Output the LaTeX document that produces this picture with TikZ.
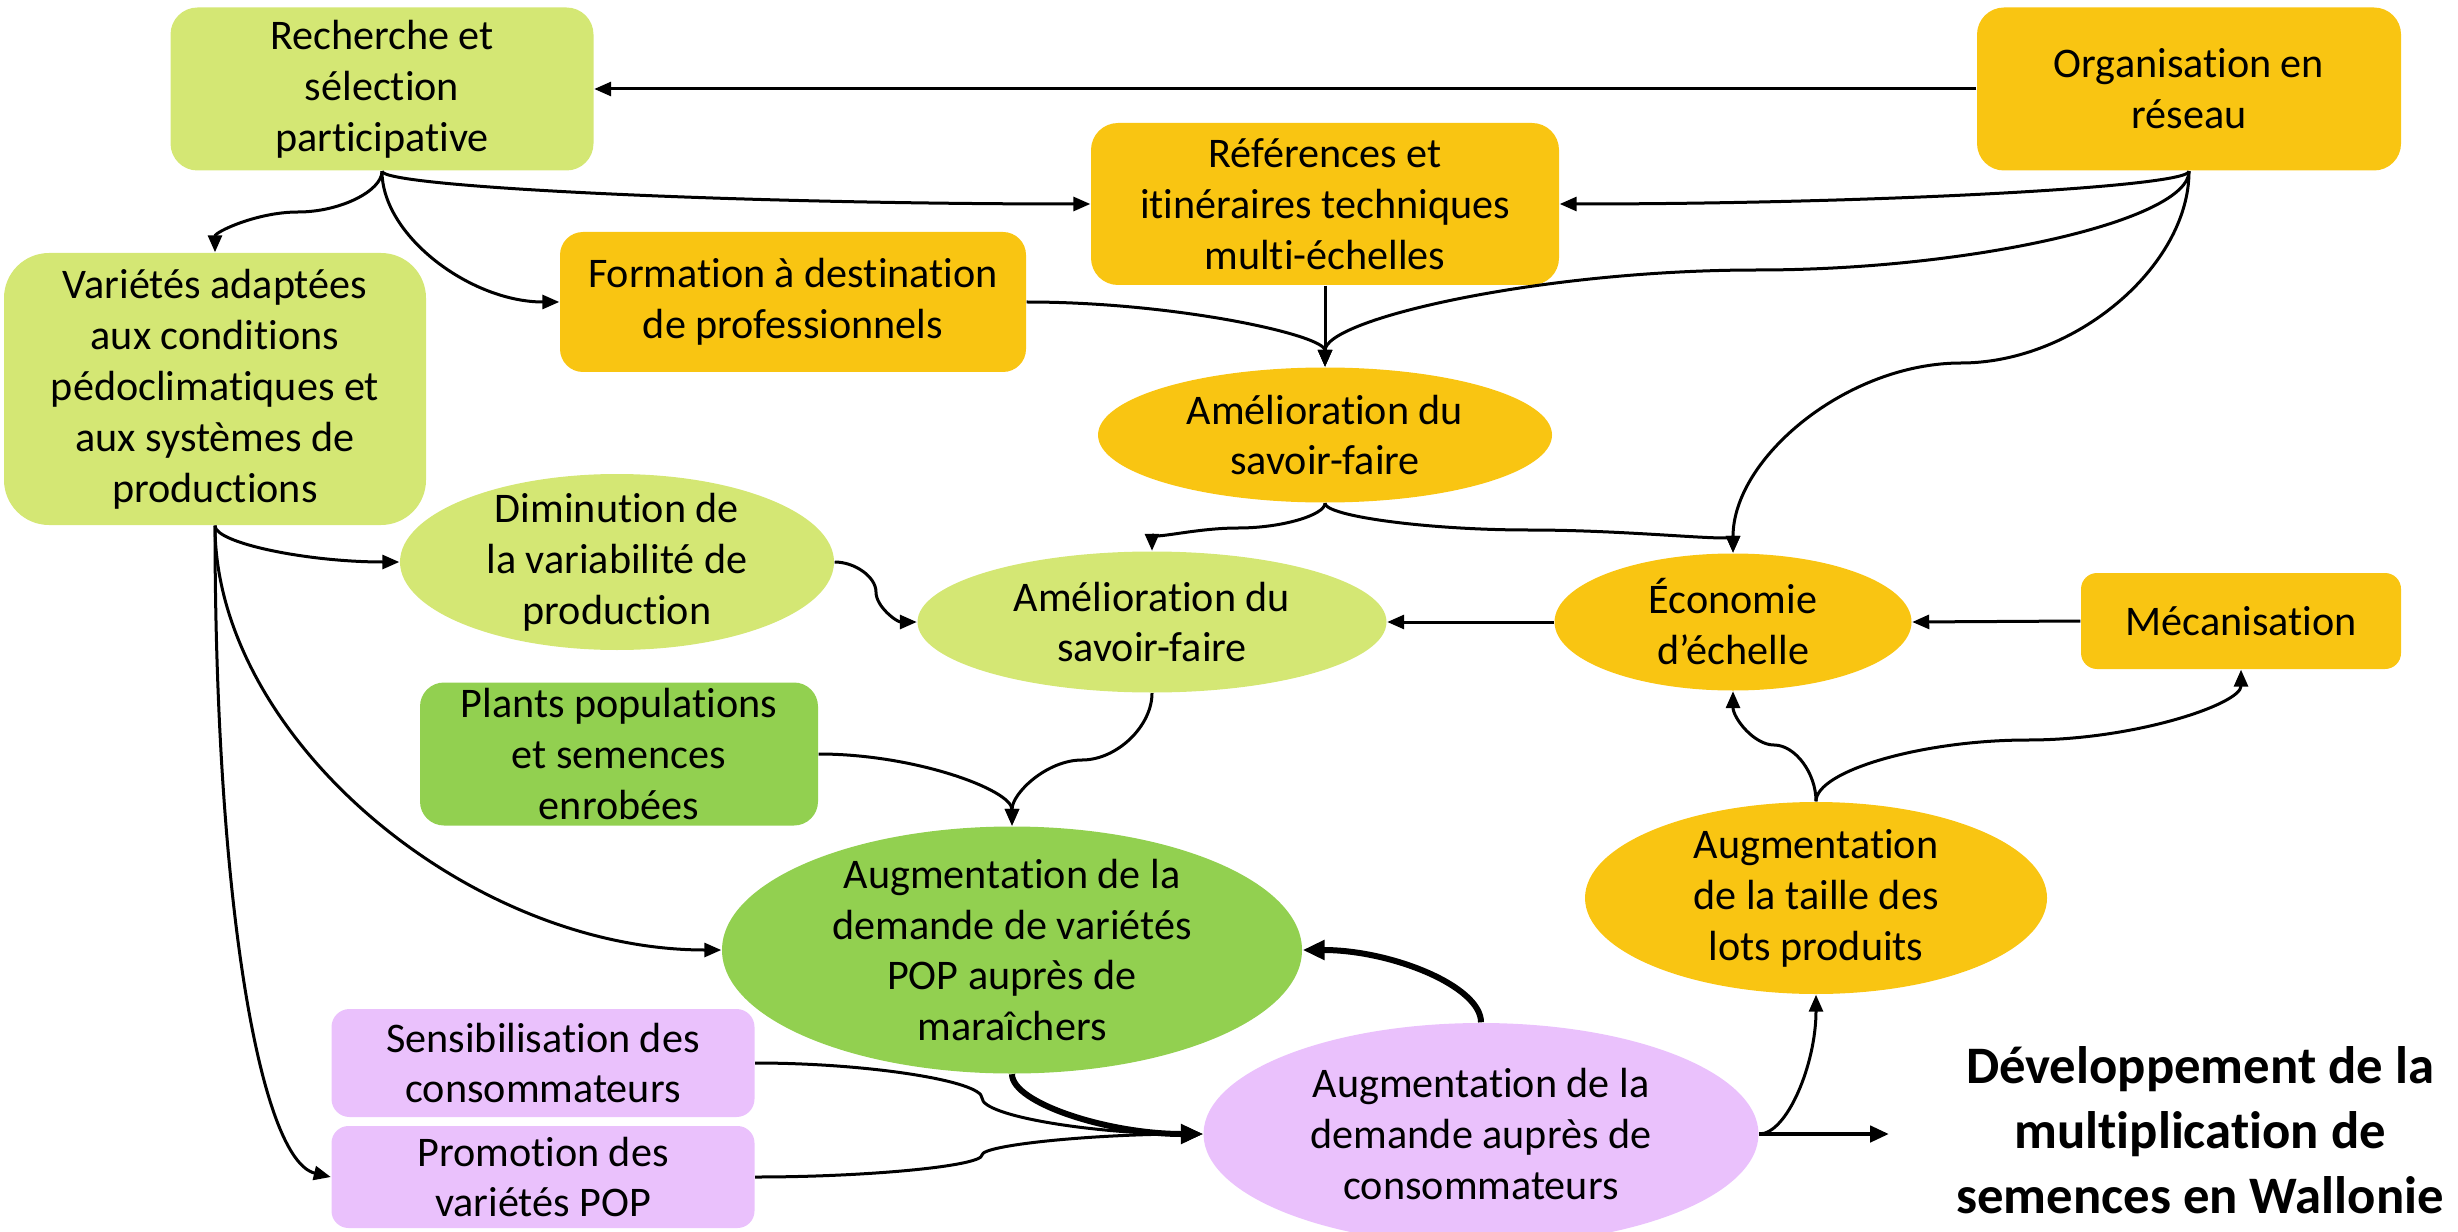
\documentclass[tikz,border=0pt]{standalone}
\usepackage{fontspec}
\setmainfont{Carlito}[Ligatures=NoCommon]
\usetikzlibrary{shapes.geometric,arrows.meta}
\definecolor{lgreen}{HTML}{D4E774}
\definecolor{gold}{HTML}{F9C512}
\definecolor{mgreen}{HTML}{92D050}
\definecolor{lpurple}{HTML}{EAC1FC}
\begin{document}
\begin{tikzpicture}[x=0.1mm,y=-0.1mm,
  font=\fontsize{12}{14.5}\selectfont,
  rbox/.style={rectangle, rounded corners=#1, draw=none, align=center, inner sep=0pt},
  ell/.style={ellipse, draw=none, inner sep=0pt},
  txt/.style={align=center, inner sep=0pt},
  conn/.style={line width=0.3mm, -{Triangle[length=1.7mm,width=1.4mm]}},
  thk/.style={line width=0.6mm, -{Triangle[length=2.2mm,width=1.9mm]}},
  mid/.style={line width=0.45mm, -{Triangle[length=1.9mm,width=1.6mm]}}]
\clip (0,0) rectangle (2458,1232);
\useasboundingbox (0,0) rectangle (2458,1232);

% boxes
\node[rbox=2.7mm, fill=lgreen, minimum width=4.23cm, minimum height=1.63cm] (rech) at (382,89) {Recherche et\\sélection\\participative};
\node[rbox=2.7mm, fill=gold, minimum width=4.24cm, minimum height=1.63cm] (org) at (2189,89) {Organisation en\\réseau};
\node[rbox=2.7mm, fill=gold, minimum width=4.68cm, minimum height=1.62cm] (ref) at (1325,204) {Références et\\itinéraires techniques\\multi-échelles};
\node[rbox=2.3mm, fill=gold, minimum width=4.66cm, minimum height=1.40cm] (form) at (793,302) {Formation à destination\\de professionnels};
\node[rbox=4.5mm, fill=lgreen, minimum width=4.22cm, minimum height=2.72cm] (var) at (215,389) {Variétés adaptées\\aux conditions\\pédoclimatiques et\\aux systèmes de\\productions};
\node[rbox=1.6mm, fill=gold, minimum width=3.20cm, minimum height=0.96cm] (meca) at (2241,621) {Mécanisation};
\node[rbox=2.4mm, fill=mgreen, minimum width=3.98cm, minimum height=1.43cm] (plants) at (619,754) {Plants populations\\et semences\\enrobées};
\node[rbox=1.8mm, fill=lpurple, minimum width=4.23cm, minimum height=1.08cm] (sens) at (543,1063) {Sensibilisation des\\consommateurs};
\node[rbox=1.7mm, fill=lpurple, minimum width=4.23cm, minimum height=1.02cm] (prom) at (543,1177) {Promotion des\\variétés POP};

% ellipses
\node[ell, fill=gold, minimum width=4.54cm, minimum height=1.35cm] (amg) at (1325,435) {};
\node[txt] (amg-t) at (amg) {Amélioration du\\savoir-faire};
\node[ell, fill=lgreen, minimum width=4.34cm, minimum height=1.76cm] (dim) at (617,562) {};
\node[txt] (dim-t) at (dim) {Diminution de\\la variabilité de\\production};
\node[ell, fill=lgreen, minimum width=4.69cm, minimum height=1.41cm] (alg) at (1152,622) {};
\node[txt] (alg-t) at (alg) {Amélioration du\\savoir-faire};
\node[ell, fill=gold, minimum width=3.57cm, minimum height=1.37cm] (eco) at (1733,622) {};
\node[txt] (eco-t) at (eco) {Économie\\d’échelle};
\node[ell, fill=mgreen, minimum width=5.80cm, minimum height=2.47cm] (apop) at (1012,950) {};
\node[txt] (apop-t) at (apop) {Augmentation de la\\demande de variétés\\POP auprès de\\maraîchers};
\node[ell, fill=gold, minimum width=4.62cm, minimum height=1.92cm] (taille) at (1816,898) {};
\node[txt] (taille-t) at (taille) {Augmentation\\de la taille des\\lots produits};
\node[ell, fill=lpurple, minimum width=5.55cm, minimum height=2.22cm] (acons) at (1481,1134) {};
\node[txt] (acons-t) at (acons) {Augmentation de la\\demande auprès de\\consommateurs};

% title
\node[txt, font=\bfseries\fontsize{15}{18.5}\selectfont] (title) at (2200,1130) {Développement de la\\multiplication de\\semences en Wallonie};
\coordinate (tgt) at (1889,1134);

% connectors
\draw[conn] (org.west) -- (rech.east);
\draw[conn] (rech.south) .. controls (382,187) and (736,204) .. (ref.west);
\draw[conn] (rech.south) .. controls (382,191) and (340,212) .. (298,212) .. controls (257,212) and (215,232) .. (var.north);
\draw[conn] (rech.south) .. controls (382,236) and (471,302) .. (form.west);
\draw[conn] (org.south) .. controls (2189,187) and (1874,204) .. (ref.east);
\draw[conn] (org.south) .. controls (2189,220) and (1973,270) .. (1757,270) .. controls (1541,270) and (1325,319) .. (amg.north);
\draw[conn] (org.south) .. controls (2189,266) and (2075,363) .. (1961,363) .. controls (1847,363) and (1733,458) .. (eco.north);
\draw[conn] (ref.south) -- (amg.north);
\draw[conn] (form.east) .. controls (1175,302) and (1325,335) .. (amg.north);
\draw[conn] (amg.south) .. controls (1325,515) and (1282,528) .. (1238,528) .. controls (1195,528) and (1152,540) .. (alg.north);
\draw[conn] (amg.south) .. controls (1325,516) and (1427,530) .. (1529,530) .. controls (1631,530) and (1733,542) .. (eco.north);
\draw[conn] (eco.west) -- (alg.east);
\draw[conn] (meca.west) -- (eco.east);
\draw[conn] (var.south) .. controls (215,543) and (307,562) .. (dim.west);
\draw[conn] (dim.east) .. controls (855,562) and (876,577) .. (876,592) .. controls (876,607) and (897,622) .. (alg.west);
\draw[conn] (var.south) .. controls (215,737) and (468,950) .. (apop.west);
\draw[conn] (var.south) .. controls (215,900) and (260,1160) .. (prom.west);
\draw[conn] (alg.south) .. controls (1152,726) and (1117,760) .. (1082,760) .. controls (1047,760) and (1012,793) .. (apop.north);
\draw[conn] (plants.east) .. controls (915,754) and (1012,790) .. (apop.north);
\draw[thk] (apop.south) .. controls (1012,1103) and (1108,1134) .. (acons.west);
\draw[conn] (sens.east) .. controls (868,1063) and (982,1081) .. (982,1098) .. controls (982,1116) and (1093,1134) .. (acons.west);
\draw[conn] (prom.east) .. controls (868,1177) and (982,1166) .. (982,1155) .. controls (982,1145) and (1093,1134) .. (acons.west);
\draw[thk] (acons.north) .. controls (1481,986) and (1391,950) .. (apop.east);
\draw[conn] (acons.east) .. controls (1787,1134) and (1816,1064) .. (taille.south);
\draw[mid] (acons.east) -- (tgt);
\draw[conn] (taille.north) .. controls (1816,773) and (1795,745) .. (1774,745) .. controls (1754,745) and (1733,718) .. (eco.south);
\draw[conn] (taille.north) .. controls (1816,771) and (1922,740) .. (2028,740) .. controls (2135,740) and (2241,704) .. (meca.south);
\end{tikzpicture}
\end{document}
